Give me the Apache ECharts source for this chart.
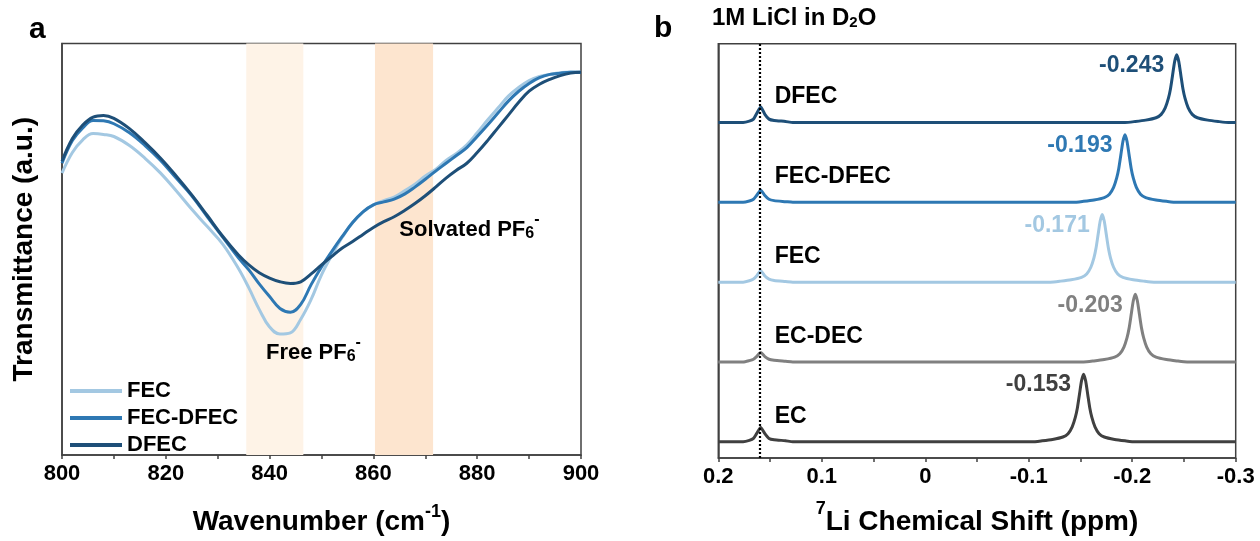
<!DOCTYPE html>
<html>
<head>
<meta charset="utf-8">
<script src="https://cdn.jsdelivr.net/npm/echarts@6/dist/echarts.min.js"></script>
<style>
  html, body { margin: 0; padding: 0; background: #fff; }
  #chart { width: 1260px; height: 541px; }
</style>
</head>
<body>
<div id="chart"></div>
<script>
// ---------- Panel a: FTIR spectra (transmittance, a.u.) ----------
const wavenumbers = [800,802,804,806,808,810,813,816,819,822,825,828,831,834,836,838,840,842,844,846,848,850,852,854,856,858,860,862,864,866,868,870,872,874,876,878,880,882,884,886,888,890,892,894,896,898,900];
const ftirFEC = [68.5,73.5,76.6,78.1,77.9,77.4,75.2,72.1,68.5,64.2,59.7,55.5,51.2,45.3,40.6,35.4,31.1,29.4,29.7,33.0,37.8,43.8,48.6,52.9,56.5,59.1,60.8,61.8,62.7,64.2,65.8,67.8,69.4,71.6,73.3,75.4,78.3,81.4,84.3,87.2,89.3,91.0,92.0,92.5,92.9,93.1,93.0];
const ftirFECDFEC = [70.9,76.4,79.5,81.3,81.2,80.5,78.3,75.2,71.6,67.3,63.0,57.9,52.9,47.9,45.0,41.6,38.5,35.6,34.7,36.6,41.4,45.7,49.5,53.1,56.5,59.1,60.8,61.5,62.2,63.4,65.1,67.0,69.0,70.9,72.8,74.7,77.4,80.2,83.1,86.0,88.4,90.3,91.7,92.5,92.8,93.0,93.0];
const ftirDFEC = [71.4,76.9,80.2,82.1,82.5,81.8,79.3,75.9,72.1,67.8,63.2,58.2,53.1,48.6,46.2,44.3,43.0,42.1,41.7,42.1,44.0,46.2,48.3,50.3,51.9,53.6,55.3,56.7,57.9,59.4,61.1,63.0,65.1,67.3,69.2,70.9,73.5,76.4,79.5,82.6,85.7,88.4,90.1,91.3,92.2,92.8,93.0];
const ftirNames = ['FEC', 'FEC-DFEC', 'DFEC'];
const ftirTicks = [800, 820, 840, 860, 880, 900];
// shaded regions: free PF6- and solvated PF6- bands (cm-1)
const freeBand = [835.5, 846.5];
const solvatedBand = [860.3, 871.5];

// ---------- Panel b: 7Li NMR spectra ([ppm, normalised intensity]) ----------
const nmrEC = [[0.2,0],[0.176,0],[0.17,0.02],[0.166,0.05],[0.163,0.12],[0.159,0.21],[0.155,0.12],[0.151,0.05],[0.146,0.03],[0.135,0.015],[0.128,0],
  [-0.103,0],[-0.113,0.015],[-0.123,0.035],[-0.133,0.07],[-0.138,0.12],[-0.142,0.22],[-0.145,0.36],[-0.147,0.5],[-0.149,0.7],[-0.151,0.9],[-0.153,1],
  [-0.155,0.9],[-0.157,0.7],[-0.159,0.5],[-0.161,0.36],[-0.164,0.22],[-0.168,0.12],[-0.173,0.07],[-0.183,0.035],[-0.193,0.015],[-0.203,0],[-0.3,0]];
const nmrECDEC = [[0.2,0],[0.176,0],[0.17,0.02],[0.166,0.04],[0.163,0.08],[0.159,0.14],[0.155,0.08],[0.151,0.04],[0.146,0.025],[0.135,0.01],[0.128,0],
  [-0.153,0],[-0.163,0.015],[-0.173,0.035],[-0.183,0.07],[-0.188,0.12],[-0.192,0.22],[-0.195,0.36],[-0.197,0.5],[-0.199,0.7],[-0.201,0.9],[-0.203,1],
  [-0.205,0.9],[-0.207,0.7],[-0.209,0.5],[-0.211,0.36],[-0.214,0.22],[-0.218,0.12],[-0.223,0.07],[-0.233,0.035],[-0.243,0.015],[-0.253,0],[-0.3,0]];
const nmrFEC = [[0.2,0],[0.176,0],[0.17,0.02],[0.166,0.045],[0.163,0.09],[0.159,0.17],[0.155,0.09],[0.151,0.045],[0.146,0.025],[0.135,0.01],[0.128,0],
  [-0.121,0],[-0.131,0.015],[-0.141,0.035],[-0.151,0.07],[-0.156,0.12],[-0.16,0.22],[-0.163,0.36],[-0.165,0.5],[-0.167,0.7],[-0.169,0.9],[-0.171,1],
  [-0.173,0.9],[-0.175,0.7],[-0.177,0.5],[-0.179,0.36],[-0.182,0.22],[-0.186,0.12],[-0.191,0.07],[-0.201,0.035],[-0.211,0.015],[-0.221,0],[-0.3,0]];
const nmrFECDFEC = [[0.2,0],[0.176,0],[0.17,0.02],[0.166,0.045],[0.163,0.1],[0.159,0.18],[0.155,0.1],[0.151,0.045],[0.146,0.025],[0.135,0.01],[0.128,0],
  [-0.143,0],[-0.153,0.015],[-0.163,0.035],[-0.173,0.07],[-0.178,0.12],[-0.182,0.22],[-0.185,0.36],[-0.187,0.5],[-0.189,0.7],[-0.191,0.9],[-0.193,1],
  [-0.195,0.9],[-0.197,0.7],[-0.199,0.5],[-0.201,0.36],[-0.204,0.22],[-0.208,0.12],[-0.213,0.07],[-0.223,0.035],[-0.233,0.015],[-0.243,0],[-0.3,0]];
const nmrDFEC = [[0.2,0],[0.176,0],[0.17,0.02],[0.166,0.05],[0.163,0.13],[0.159,0.23],[0.155,0.12],[0.151,0.05],[0.146,0.03],[0.135,0.015],[0.128,0],
  [-0.193,0],[-0.203,0.015],[-0.213,0.035],[-0.223,0.07],[-0.228,0.12],[-0.232,0.22],[-0.235,0.36],[-0.237,0.5],[-0.239,0.7],[-0.241,0.9],[-0.243,1],
  [-0.245,0.9],[-0.247,0.7],[-0.249,0.5],[-0.251,0.36],[-0.254,0.22],[-0.258,0.12],[-0.263,0.07],[-0.273,0.035],[-0.283,0.015],[-0.293,0],[-0.3,0]];
const nmrNames = ['EC', 'EC-DEC', 'FEC', 'FEC-DFEC', 'DFEC'];
const nmrPeaks = [-0.153, -0.203, -0.171, -0.193, -0.243];
const nmrOffsets = [0.24, 1.42, 2.60, 3.78, 4.96];
const nmrTicks = [0.2, 0.1, 0, -0.1, -0.2, -0.3];
const referenceShift = 0.159; // 1M LiCl in D2O

// ---------- styling ----------
const FONT = "'Liberation Sans', Arial, Helvetica, sans-serif";
const AXIS = '#404040';
const ftirColors = { 'FEC': '#a3c8e2', 'FEC-DFEC': '#2e78b3', 'DFEC': '#1e4f78' };
const nmrColors = { 'EC': '#404040', 'EC-DEC': '#808080', 'FEC': '#a3c8e2', 'FEC-DFEC': '#2e78b3', 'DFEC': '#1e4f78' };

const bold = (size, extra) => Object.assign({ fontFamily: FONT, fontWeight: 'bold', fontSize: size, color: '#000' }, extra || {});
// invisible anchor points that only carry text labels
const anchorStyle = { color: 'transparent', opacity: 1 };

function xAxisBase(gridIndex, ticks, nameRich, name, gap) {
  const lo = Math.min(...ticks), hi = Math.max(...ticks);
  return {
    type: 'value', gridIndex, min: lo, max: hi,
    interval: Math.abs(ticks[1] - ticks[0]),
    name, nameLocation: 'middle', nameGap: gap,
    nameTextStyle: { rich: nameRich },
    axisLine: { show: true, onZero: false, lineStyle: { color: AXIS, width: 1.5 } },
    axisTick: { show: true, inside: false, length: 4, lineStyle: { color: AXIS, width: 1.5 } },
    minorTick: { show: true, splitNumber: 2, length: 4, lineStyle: { color: AXIS, width: 1.5 } },
    splitLine: { show: false },
    axisLabel: Object.assign(bold(22), { margin: 8, showMinLabel: true, showMaxLabel: true })
  };
}

// axis titles with a superscript part
const supRichA = {
  t: bold(28, { lineHeight: 40, verticalAlign: 'bottom' }),
  s: bold(18, { lineHeight: 22, verticalAlign: 'top', padding: [7, 0, 0, 0] })
};
const supRichB = {
  t: bold(28, { lineHeight: 40, verticalAlign: 'bottom' }),
  s: bold(18, { lineHeight: 22, verticalAlign: 'top', padding: [4, 0, 0, 0] })
};

const pfRich = {
  t: bold(22, { lineHeight: 30, verticalAlign: 'bottom' }),
  s: bold(16, { lineHeight: 14, verticalAlign: 'bottom' }),
  p: bold(16, { lineHeight: 14, verticalAlign: 'top' })
};

const ftirSets = { 'FEC': ftirFEC, 'FEC-DFEC': ftirFECDFEC, 'DFEC': ftirDFEC };
const nmrSets = { 'EC': nmrEC, 'EC-DEC': nmrECDEC, 'FEC': nmrFEC, 'FEC-DFEC': nmrFECDFEC, 'DFEC': nmrDFEC };

const series = [];

// shaded bands behind the FTIR curves
series.push({
  type: 'line', xAxisIndex: 0, yAxisIndex: 0, data: [], silent: true, z: 0,
  markArea: {
    silent: true,
    data: [
      [{ xAxis: freeBand[0], itemStyle: { color: '#fef3e7' } }, { xAxis: freeBand[1] }],
      [{ xAxis: solvatedBand[0], itemStyle: { color: '#fde5cf' } }, { xAxis: solvatedBand[1] }]
    ]
  }
});

ftirNames.forEach(name => {
  series.push({
    name, type: 'line', xAxisIndex: 0, yAxisIndex: 0, z: 3,
    data: wavenumbers.map((w, i) => [w, ftirSets[name][i]]),
    smooth: 0.4, showSymbol: false, symbol: 'none',
    lineStyle: { color: ftirColors[name], width: 3 },
    itemStyle: { color: ftirColors[name] }
  });
});

// band annotations
series.push({
  type: 'scatter', xAxisIndex: 0, yAxisIndex: 0, silent: true, symbolSize: 1, z: 5,
  itemStyle: anchorStyle,
  data: [
    { value: [839.4, 25.6], label: { formatter: '{t|Free PF}{s|6}{p|-}' } },
    { value: [865.1, 55.5], label: { formatter: '{t|Solvated PF}{s|6}{p|-}' } }
  ],
  label: { show: true, position: [0, 0], align: 'left', verticalAlign: 'middle', rich: pfRich }
});

// NMR traces, stacked with vertical offsets
nmrNames.forEach((name, k) => {
  const s = {
    name: 'NMR ' + name, type: 'line', xAxisIndex: 1, yAxisIndex: 1, z: 3,
    data: nmrSets[name].map(p => [p[0], p[1] + nmrOffsets[k]]),
    smooth: 0.2, showSymbol: false, symbol: 'none',
    lineStyle: { color: nmrColors[name], width: 3 },
    itemStyle: { color: nmrColors[name] }
  };
  if (k === 0) {
    s.markLine = {
      silent: true, symbol: 'none', label: { show: false },
      lineStyle: { color: '#000', width: 2.2, type: [2, 2] },
      data: [{ xAxis: referenceShift }]
    };
  }
  series.push(s);
});

// peak position labels
series.push({
  type: 'scatter', xAxisIndex: 1, yAxisIndex: 1, silent: true, symbolSize: 1, z: 5,
  itemStyle: anchorStyle,
  data: nmrNames.map((name, k) => ({
    value: [nmrPeaks[k], nmrOffsets[k] + 1],
    label: {
      show: true, position: 'left', distance: 12, offset: [0, 11],
      formatter: nmrPeaks[k].toFixed(3),
      ...bold(23, { color: nmrColors[name] })
    }
  }))
});

// sample name labels
series.push({
  type: 'scatter', xAxisIndex: 1, yAxisIndex: 1, silent: true, symbolSize: 1, z: 5,
  itemStyle: anchorStyle,
  data: nmrNames.map((name, k) => ({
    value: [0.145, nmrOffsets[k]],
    label: {
      show: true, position: [0, 0], offset: [0, -25], align: 'left', verticalAlign: 'middle',
      formatter: name, ...bold(23)
    }
  }))
});

const option = {
  backgroundColor: '#fff',
  animation: false,
  grid: [
    { left: 62, top: 43.5, width: 519, height: 417.2, show: true, borderColor: AXIS, borderWidth: 1.5, backgroundColor: 'transparent' },
    { left: 718.3, top: 43.7, width: 517.4, height: 416.3, show: true, borderColor: AXIS, borderWidth: 1.5, backgroundColor: 'transparent' }
  ],
  xAxis: [
    xAxisBase(0, ftirTicks, supRichA, '{t|Wavenumber (cm}{s|-1}{t|)}', 41),
    Object.assign(xAxisBase(1, nmrTicks, supRichB, '{s|7}{t|Li Chemical Shift (ppm)}', 38), { inverse: true })
  ],
  yAxis: [
    {
      type: 'value', gridIndex: 0, min: 0, max: 100,
      name: 'Transmittance (a.u.)', nameLocation: 'middle', nameGap: 24,
      nameTextStyle: bold(28),
      axisLine: { show: true, onZero: false, lineStyle: { color: AXIS, width: 1.5 } },
      axisTick: { show: false }, axisLabel: { show: false }, splitLine: { show: false }
    },
    {
      type: 'value', gridIndex: 1, min: 0, max: 6.125,
      axisLine: { show: true, onZero: false, lineStyle: { color: AXIS, width: 1.5 } },
      axisTick: { show: false }, axisLabel: { show: false }, splitLine: { show: false }
    }
  ],
  legend: {
    data: ftirNames, orient: 'vertical', left: 70, top: 379, padding: 0,
    icon: 'rect', itemWidth: 52, itemHeight: 4, itemGap: 3,
    textStyle: bold(22, { lineHeight: 24 }),
    selectedMode: false
  },
  graphic: [
    { type: 'text', left: 29, top: 15, style: Object.assign({ text: 'a' }, bold(30)) },
    { type: 'text', left: 654, top: 14, style: Object.assign({ text: 'b' }, bold(30)) },
    {
      type: 'text', left: 712, top: 6,
      style: {
        text: '{t|1M LiCl in D}{s|2}{t|O}',
        rich: {
          t: bold(24, { lineHeight: 26, verticalAlign: 'bottom' }),
          s: bold(15, { lineHeight: 12, verticalAlign: 'bottom' })
        }
      }
    }
  ],
  series
};

const chart = echarts.init(document.getElementById('chart'), null, { renderer: 'canvas' });
chart.setOption(option);
</script>
</body>
</html>
